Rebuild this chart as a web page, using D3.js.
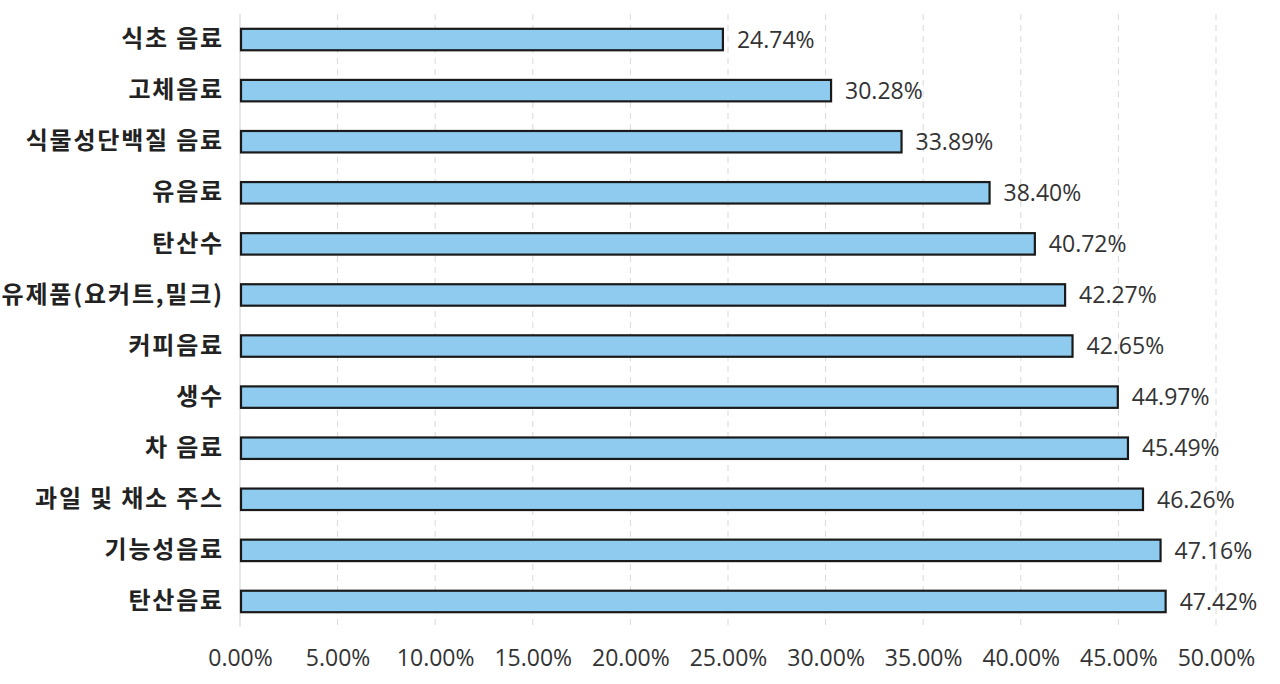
<!DOCTYPE html>
<html><head><meta charset="utf-8">
<script src="https://cdn.jsdelivr.net/npm/d3@7"></script>
<style>
html,body{margin:0;padding:0;background:#fff;}
svg{display:block;}
</style></head>
<body>
<svg id="chart" width="1280" height="684"></svg>
<script>
const categories = ["식초 음료","고체음료","식물성단백질 음료","유음료","탄산수","유제품(요커트,밀크)","커피음료","생수","차 음료","과일 및 채소 주스","기능성음료","탄산음료"];
const values = [24.74,30.28,33.89,38.40,40.72,42.27,42.65,44.97,45.49,46.26,47.16,47.42];
const tickValues = [0,5,10,15,20,25,30,35,40,45,50];

const svg = d3.select("#chart");
const m = {left:240, right:64, top:14, bottom:57};
const W = 1280, H = 684;
const x = d3.scaleLinear().domain([0,50]).range([m.left, W - m.right]);
const y = d3.scaleBand().domain(categories).range([m.top, H - m.bottom]).paddingInner(0.58).paddingOuter(0.29);

// grid
svg.append("g").selectAll("line").data(tickValues.slice(1)).join("line")
  .attr("x1", d=>x(d)).attr("x2", d=>x(d))
  .attr("y1", m.top).attr("y2", H - m.bottom)
  .attr("stroke", "#d9d9d9").attr("stroke-width", 1).attr("stroke-dasharray", "6,5");
svg.append("line").attr("x1", x(0)).attr("x2", x(0)).attr("y1", m.top).attr("y2", H - m.bottom)
  .attr("stroke", "#d9d9d9").attr("stroke-width", 1.2);

// x axis
const xAxis = d3.axisBottom(x).tickValues(tickValues).tickFormat(d=>d.toFixed(2)+"%").tickSize(0).tickPadding(0);
const gx = svg.append("g").attr("transform", `translate(0,${H - m.bottom + 23})`).call(xAxis);
gx.select(".domain").remove();
gx.selectAll("text").attr("font-family","'Open Sans','Noto Sans CJK KR',sans-serif").attr("font-size",23).attr("fill","#333");

// y axis
const yAxis = d3.axisLeft(y).tickSize(0).tickPadding(16);
const gy = svg.append("g").attr("transform", `translate(${m.left},0)`).call(yAxis);
gy.select(".domain").remove();
gy.selectAll("text").attr("font-family","'Noto Sans CJK KR',sans-serif").attr("font-size",24).attr("font-weight","bold").attr("fill","#222").attr("letter-spacing","1.8px");

// bars
svg.append("g").selectAll("rect").data(values).join("rect")
  .attr("x", x(0)+1)
  .attr("y", (d,i)=>y(categories[i]))
  .attr("width", d=>x(d)-x(0)-1)
  .attr("height", y.bandwidth())
  .attr("fill", "#8ecbef")
  .attr("stroke", "#1a1a1a").attr("stroke-width", 2.2);

// value labels
svg.append("g").selectAll("text").data(values).join("text")
  .attr("x", d=>x(d)+14)
  .attr("y", (d,i)=>y(categories[i]) + y.bandwidth()/2)
  .attr("dy","0.36em")
  .attr("font-family","'Open Sans','Noto Sans CJK KR',sans-serif").attr("font-size",23).attr("fill","#333")
  .text(d=>d.toFixed(2)+"%");
</script>
</body></html>
